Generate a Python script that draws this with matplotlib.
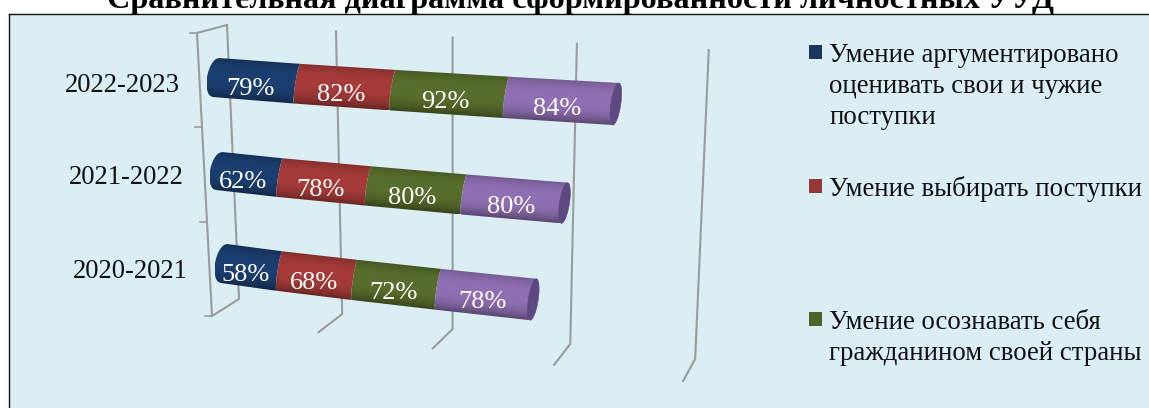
import numpy as np
import matplotlib
import matplotlib.pyplot as plt
from matplotlib.colors import to_rgb
from matplotlib.patches import Polygon

matplotlib.use('Agg')

plt.rcParams['font.family'] = ['Liberation Serif', 'DejaVu Serif']

title = 'Сравнительная диаграмма сформированности личностных УУД'
years = ['2022-2023', '2021-2022', '2020-2021']
argument = [79, 62, 58]
vybor = [82, 78, 68]
grazhd = [92, 80, 72]
samo = [84, 80, 78]
grid_values = [0, 100, 200, 300, 400]
legend_labels = [
    'Умение аргументировано\nоценивать свои и чужие\nпоступки',
    'Умение выбирать поступки',
    'Умение осознавать себя\nгражданином своей страны',
]

series = [argument, vybor, grazhd, samo]
colors = ['#1a3f70', '#a63b39', '#586e2c', '#9070b4']
cap_color = '#5e4880'
grid_color = '#9b9b9b'
bg = '#daeef4'


def scale_x(v, x0, k):
    # perspective: 100 units get a little wider going right
    u = np.asarray(v) / 100.0
    return x0 + k * u * (96.5 + 3.5 * u)


# x0, k, y at zero, y slope, radius at zero, radius growth - one per row
row_proj = [
    (210, 1.112, 77.5, 0.0786, 19.5, 0.0045),
    (213, 1.095, 171, 0.1067, 19.0, 0.0045),
    (218, 1.076, 263.5, 0.1304, 19.5, 0.0045),
]
# planes of the chart walls: x0, k, y0, slope
wall_top = (227, 1.090, 25, 0.0625)
wall_bottom = (239, 1.032, 299, 0.150)
floor_front = (212, 1.066, 316, 0.1625)

fig = plt.figure(figsize=(11.49, 4.08), dpi=100)
ax = fig.add_axes([0, 0, 1, 1])
ax.axis('off')

# background panel with the black border on top and left
ax.fill([9, 1149, 1149, 9], [14, 14, 408, 408], color=bg, lw=0, zorder=0)
ax.plot([9, 1149], [13.5, 13.5], color='#111111', lw=1.0, zorder=1)
ax.plot([9, 9], [13.5, 408], color='#111111', lw=1.0, zorder=1)

ax.text(581, 8, title, ha='center', va='baseline', fontsize=23.2,
        fontweight='bold', color='black', clip_on=True)

# grid lines on the back wall and floor
for v in grid_values:
    xt = scale_x(v, wall_top[0], wall_top[1])
    yt = wall_top[2] + v * wall_top[3]
    xb = scale_x(v, wall_bottom[0], wall_bottom[1])
    yb = wall_bottom[2] + v * wall_bottom[3]
    xf = scale_x(v, floor_front[0], floor_front[1])
    yf = floor_front[2] + v * floor_front[3]
    ax.plot([xt, xb, xf], [yt, yb, yf], color=grid_color, lw=1.5, zorder=2,
            solid_joinstyle='miter')

# side wall and category ticks
side_x = [197, 212]
side_y = [33, 316]
ax.plot(side_x, side_y, color=grid_color, lw=1.5, zorder=2)
ax.plot([side_x[0], wall_top[0]], [side_y[0], wall_top[2]], color=grid_color, lw=1.5, zorder=2)
for i in range(len(years) + 1):
    ty = side_y[0] + i * (side_y[1] - side_y[0]) / len(years)
    tx = side_x[0] + i * (side_x[1] - side_x[0]) / len(years)
    ax.plot([tx - 7, tx], [ty, ty], color=grid_color, lw=1.2, zorder=2)

# stacked cylinders
ts = np.linspace(-1, 1, 41)
lean = 3.0
seam_bulge = 2.0
for r, proj in enumerate(row_proj):
    x0, k, y0, slope, rad0, rad_k = proj
    left = 0
    for s, vals in enumerate(series):
        right = left + vals[r]

        def seam(v, first=False):
            rad = rad0 + rad_k * v
            yy = y0 + slope * v + rad * ts
            if first:
                # rounded far end of the cylinder
                xx = scale_x(v, x0, k) + 6 - lean * ts - 9 * np.sqrt(1 - ts ** 2)
            else:
                xx = scale_x(v, x0, k) - lean * ts - seam_bulge * np.sqrt(1 - ts ** 2)
            return xx, yy

        lx, ly = seam(left, first=(s == 0))
        rx, ry = seam(right)
        px = np.concatenate([lx, rx[::-1]])
        py = np.concatenate([ly, ry[::-1]])

        # vertical shading of the segment, painted as an image and clipped
        xmin, xmax, ymin, ymax = px.min(), px.max(), py.min(), py.max()
        gx, gy = np.meshgrid(np.linspace(xmin, xmax, 200), np.linspace(ymin, ymax, 200))
        vv = left + (gx - scale_x(left, x0, k)) * (right - left) / (scale_x(right, x0, k) - scale_x(left, x0, k))
        t = np.clip((gy - y0 - slope * vv) / (rad0 + rad_k * vv), -1, 1)
        shade = 0.72 + 0.28 * (1 - np.abs(t + 0.1) ** 2.6)
        rgb = np.clip(np.array(to_rgb(colors[s]))[None, None, :] * shade[:, :, None], 0, 1)
        im = ax.imshow(rgb, extent=(xmin, xmax, ymax, ymin), aspect='auto',
                       interpolation='bilinear', zorder=3 + r)
        im.set_clip_path(Polygon(np.column_stack([px, py]), transform=ax.transData))

        # value label
        mid = (left + right) / 2
        ax.text(scale_x(mid, x0, k) - 3, y0 + slope * mid + 8, f'{vals[r]}%', color='white',
                ha='center', va='center', fontsize=19, zorder=10)
        left = right
    # end cap
    rad = rad0 + rad_k * left
    a = np.linspace(0, 2 * np.pi, 80)
    ax.fill(scale_x(left, x0, k) - lean * np.sin(a) + 5 * np.cos(a),
            y0 + slope * left + rad * np.sin(a), color=cap_color, lw=0.4, zorder=3 + r)

# category labels
label_right = [180, 184, 188]
label_y = [85, 178, 271]
for yr, lx, ly in zip(years, label_right, label_y):
    ax.text(lx, ly, yr, ha='right', va='center', fontsize=19.2, color='#111111')

# legend
legend_y = [45, 179, 312]
for lab, ly, c in zip(legend_labels, legend_y, ['#17365d', '#953735', '#4f6228']):
    ax.fill([809, 822, 822, 809], [ly, ly, ly + 14, ly + 14], color=c, lw=0, zorder=3)
    for j, line in enumerate(lab.split('\n')):
        ax.text(829, ly + 17 + j * 31, line, ha='left', va='baseline', fontsize=19.3,
                color='#111111')

ax.set_xlim(0, 1149)
ax.set_ylim(408, 0)

fig.savefig('out.png', dpi=100, facecolor='white')
plt.close(fig)
